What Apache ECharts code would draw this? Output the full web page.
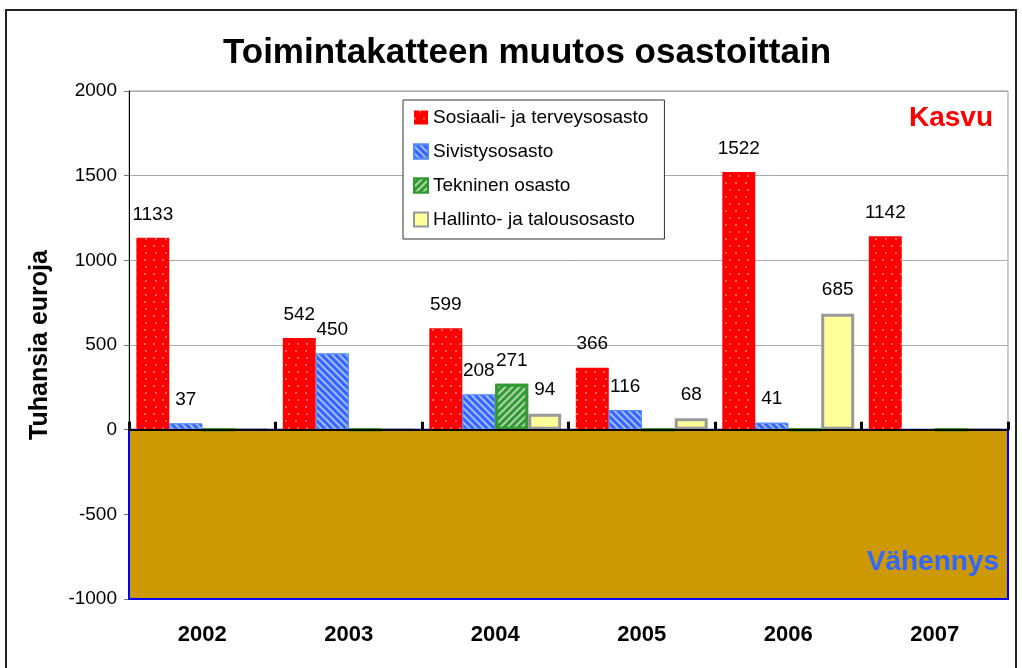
<!DOCTYPE html>
<html>
<head>
<meta charset="utf-8">
<script src="https://cdn.jsdelivr.net/npm/echarts@6/dist/echarts.min.js"></script>
<style>
  html, body { margin: 0; padding: 0; background: #fff; }
  #chart { width: 1022px; height: 668px; }
</style>
</head>
<body>
<div id="chart"></div>
<script>
  const YEARS = ['2002', '2003', '2004', '2005', '2006', '2007']
  const SOSIAALI = [1133, 542, 599, 366, 1522, 1142]
  const SIVISTYS = [37, 450, 208, 116, 41, 0]
  const TEKNINEN = [0, 0, 271, 0, 0, 0]
  const HALLINTO = [0, 0, 94, 68, 685, 0]
  const Y_TICKS = [-1000, -500, 0, 500, 1000, 1500, 2000]

  const FONT = 'Liberation Sans, Arial, sans-serif'

  const label = {
    show: true,
    position: 'top',
    distance: 14,
    fontFamily: FONT,
    fontSize: 19,
    color: '#000',
    formatter: function (p) {
      return p.value === 0 ? '' : String(p.value)
    }
  }

  const chart = echarts.init(document.getElementById('chart'))
  chart.setOption({
    backgroundColor: '#fff',
    animation: false,
    title: {
      text: 'Toimintakatteen muutos osastoittain',
      left: 522,
      textAlign: 'center',
      top: 31,
      textStyle: { fontFamily: FONT, fontSize: 35, fontWeight: 'bold', color: '#000' }
    },
    legend: {
      orient: 'vertical',
      left: 403,
      top: 100,
      width: 262,
      padding: [8, 16, 10, 10],
      itemGap: 15,
      itemWidth: 14,
      itemHeight: 14,
      backgroundColor: '#fff',
      borderColor: '#333',
      borderWidth: 1,
      textStyle: { fontFamily: FONT, fontSize: 19, color: '#000' },
      data: [
        { name: 'Sosiaali- ja terveysosasto', icon: 'rect' },
        { name: 'Sivistysosasto', icon: 'rect' },
        { name: 'Tekninen osasto', icon: 'rect' },
        { name: 'Hallinto- ja talousosasto', icon: 'rect' }
      ],
      z: 10
    },
    grid: {
      left: 129,
      right: 14,
      top: 91,
      bottom: 69,
      show: true,
      borderColor: '#999',
      borderWidth: 1,
      backgroundColor: '#fff'
    },
    xAxis: [
      {
        type: 'category',
        data: YEARS,
        position: 'bottom',
        axisLine: { show: false, onZero: false },
        axisTick: { show: false },
        axisLabel: { fontFamily: FONT, fontSize: 22, fontWeight: 'bold', color: '#000', margin: 25 }
      },
      {
        type: 'category',
        data: YEARS,
        position: 'bottom',
        z: 5,
        axisLine: { show: true, onZero: true, lineStyle: { color: '#000', width: 2 } },
        axisTick: { show: true, inside: true, length: 8, lineStyle: { color: '#000', width: 3 } },
        axisLabel: { show: false }
      }
    ],
    yAxis: {
      type: 'value',
      min: Y_TICKS[0],
      max: Y_TICKS[Y_TICKS.length - 1],
      interval: 500,
      name: 'Tuhansia euroja',
      nameLocation: 'middle',
      nameGap: 76,
      nameTextStyle: { fontFamily: FONT, fontSize: 25, fontWeight: 'bold', color: '#000' },
      axisLine: { show: true, lineStyle: { color: '#000', width: 1 } },
      axisTick: { show: true, length: 5, lineStyle: { color: '#777' } },
      axisLabel: {
        fontFamily: FONT,
        fontSize: 19,
        color: '#000',
        margin: 12,
        formatter: function (v) { return String(v) }
      },
      splitLine: { show: true, lineStyle: { color: '#aaa', width: 1 } }
    },
    series: [
      {
        name: 'Sosiaali- ja terveysosasto',
        type: 'bar',
        data: SOSIAALI,
        barGap: '0%',
        barCategoryGap: '10%',
        itemStyle: {
          color: '#ff0000',
          decal: {
            symbol: 'circle',
            symbolSize: 1,
            color: 'rgba(255,255,255,0.5)',
            dashArrayX: [[2, 7], [0, 4.5, 2, 2.5]],
            dashArrayY: [2, 5]
          }
        },
        label: label,
        markArea: {
          silent: true,
          itemStyle: { color: '#cc9900', borderColor: '#0000ff', borderWidth: 2, opacity: 1 },
          data: [[{ yAxis: 0 }, { yAxis: -1000 }]]
        }
      },
      {
        name: 'Sivistysosasto',
        type: 'bar',
        data: SIVISTYS,
        itemStyle: {
          color: '#3366ff',
          borderColor: '#5588ff',
          borderWidth: 1,
          decal: {
            symbol: 'rect',
            symbolSize: 1,
            color: 'rgba(255,255,255,0.55)',
            dashArrayX: [1, 0],
            dashArrayY: [1.5, 2.5],
            rotation: Math.PI / 4
          }
        },
        label: label
      },
      {
        name: 'Tekninen osasto',
        type: 'bar',
        data: TEKNINEN,
        itemStyle: {
          color: '#339933',
          borderColor: '#339933',
          borderWidth: 3,
          decal: {
            symbol: 'rect',
            symbolSize: 1,
            color: 'rgba(255,255,255,0.6)',
            dashArrayX: [1, 0],
            dashArrayY: [1.5, 2.5],
            rotation: -Math.PI / 4
          }
        },
        label: label
      },
      {
        name: 'Hallinto- ja talousosasto',
        type: 'bar',
        data: HALLINTO,
        itemStyle: {
          color: '#ffff99',
          borderColor: '#999999',
          borderWidth: 3
        },
        label: label
      }
    ],
    graphic: [
      {
        type: 'rect',
        shape: { x: 6, y: 10, width: 1010, height: 680 },
        style: { fill: null, stroke: '#222', lineWidth: 2 },
        silent: true,
        z: -1
      },
      {
        type: 'text',
        right: 29,
        top: 104,
        style: { text: 'Kasvu', fill: '#ff0000', font: 'bold 28px Liberation Sans, Arial, sans-serif' },
        z: 10
      },
      {
        type: 'text',
        right: 23,
        top: 548,
        style: { text: 'Vähennys', fill: '#3366ff', font: 'bold 28px Liberation Sans, Arial, sans-serif' },
        z: 10
      }
    ]
  })
</script>
</body>
</html>
